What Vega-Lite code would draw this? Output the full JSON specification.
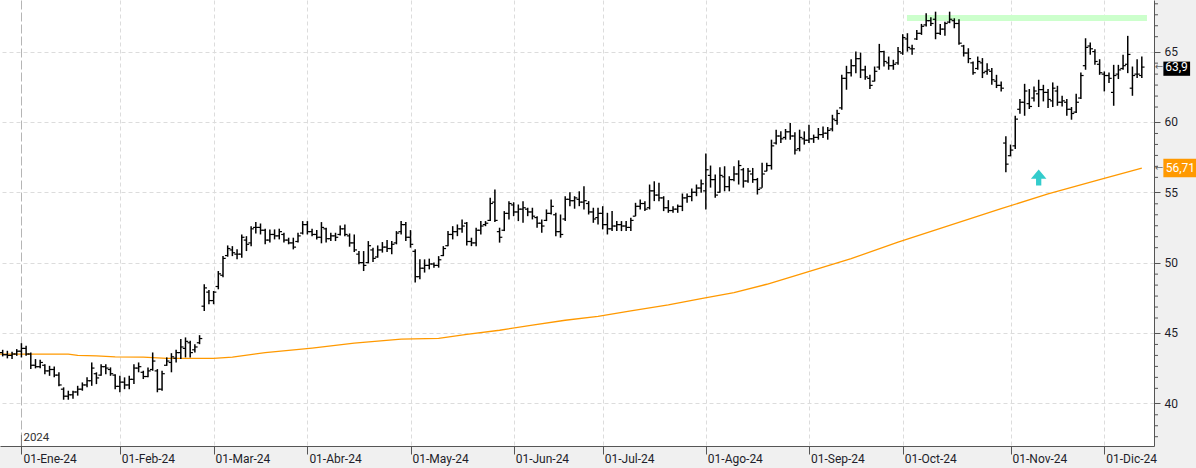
{
"$schema": "https://vega.github.io/schema/vega-lite/v6.json",
"width": 1154, "height": 446,
"autosize": {"type": "none"},
"padding": {"left": 0, "top": 0, "right": 42, "bottom": 22},
"background": "#f0f0f0",
"config": {"view": {"stroke": null, "fill": "white"}, "font": "Roboto"},
"datasets": {
"bars": [
{"k":1,"h":43.80,"l":43.33,"o":43.6,"c":43.45},{"k":2,"h":43.73,"l":43.19,"o":43.45,"c":43.4},{"k":3,"h":43.66,"l":43.14,"o":43.4,"c":43.5},{"k":4,"h":43.85,"l":43.37,"o":43.5,"c":43.7},{"k":5,"h":44.27,"l":43.26,"o":43.7,"c":43.9},{"k":6,"h":44.08,"l":43.37,"o":43.9,"c":43.5},{"k":7,"h":43.61,"l":42.43,"o":43.5,"c":42.7},{"k":8,"h":43.14,"l":42.48,"o":42.7,"c":42.6},{"k":9,"h":43.09,"l":42.48,"o":42.6,"c":42.9},{"k":10,"h":42.78,"l":42.07,"o":42.7,"c":42.3},
{"k":11,"h":42.66,"l":41.95,"o":42.3,"c":42.4},{"k":12,"h":42.62,"l":41.84,"o":42.4,"c":42.0},{"k":13,"h":42.20,"l":41.20,"o":42.0,"c":41.3},{"k":14,"h":41.13,"l":40.25,"o":41.0,"c":40.5},{"k":15,"h":40.89,"l":40.25,"o":40.5,"c":40.6},{"k":16,"h":40.89,"l":40.32,"o":40.6,"c":40.8},{"k":17,"h":41.24,"l":40.54,"o":40.8,"c":41.0},{"k":18,"h":41.48,"l":40.89,"o":41.0,"c":41.3},{"k":19,"h":41.84,"l":41.13,"o":41.3,"c":41.6},{"k":20,"h":42.90,"l":41.24,"o":41.6,"c":42.5},
{"k":21,"h":42.20,"l":41.36,"o":42.1,"c":41.8},{"k":22,"h":42.78,"l":41.95,"o":42.0,"c":42.6},{"k":23,"h":42.78,"l":42.07,"o":42.6,"c":42.5},{"k":24,"h":42.55,"l":41.95,"o":42.4,"c":42.1},{"k":25,"h":42.07,"l":41.00,"o":42.0,"c":41.2},{"k":26,"h":41.95,"l":40.78,"o":41.2,"c":41.5},{"k":27,"h":41.84,"l":41.00,"o":41.5,"c":41.3},{"k":28,"h":41.95,"l":41.00,"o":41.3,"c":41.7},{"k":29,"h":42.78,"l":41.36,"o":41.7,"c":42.5},{"k":30,"h":42.90,"l":42.20,"o":42.5,"c":42.6},
{"k":31,"h":42.31,"l":41.72,"o":42.2,"c":41.9},{"k":32,"h":42.55,"l":41.84,"o":41.9,"c":42.3},{"k":33,"h":43.61,"l":42.31,"o":42.4,"c":43.0},{"k":34,"h":42.43,"l":40.78,"o":42.3,"c":41.0},{"k":35,"h":42.31,"l":40.89,"o":41.0,"c":42.1},{"k":36,"h":43.26,"l":42.66,"o":42.7,"c":43.0},{"k":37,"h":43.56,"l":42.20,"o":42.9,"c":43.3},{"k":38,"h":43.80,"l":42.90,"o":43.2,"c":43.6},{"k":39,"h":44.56,"l":43.14,"o":43.6,"c":44.0},{"k":40,"h":44.68,"l":43.26,"o":43.9,"c":44.4},
{"k":41,"h":44.44,"l":43.26,"o":44.3,"c":43.6},{"k":42,"h":44.20,"l":43.61,"o":43.8,"c":44.0},{"k":43,"h":44.84,"l":44.20,"o":44.3,"c":44.6},{"k":44,"h":48.46,"l":46.56,"o":46.9,"c":48.2},{"k":45,"h":48.05,"l":47.04,"o":47.9,"c":47.3},{"k":46,"h":47.98,"l":47.04,"o":47.3,"c":47.9},{"k":47,"h":49.40,"l":48.10,"o":48.3,"c":49.2},{"k":48,"h":50.46,"l":48.95,"o":49.1,"c":50.3},{"k":49,"h":51.22,"l":50.42,"o":50.5,"c":51.0},{"k":50,"h":51.17,"l":50.46,"o":50.9,"c":50.7},
{"k":51,"h":50.94,"l":50.23,"o":50.6,"c":50.6},{"k":52,"h":52.00,"l":50.35,"o":50.6,"c":51.8},{"k":53,"h":51.88,"l":50.82,"o":51.6,"c":51.3},{"k":54,"h":52.59,"l":51.17,"o":51.4,"c":52.4},{"k":55,"h":52.88,"l":52.07,"o":52.5,"c":52.5},{"k":56,"h":52.78,"l":52.00,"o":52.5,"c":52.3},{"k":57,"h":52.41,"l":51.30,"o":52.3,"c":51.6},{"k":58,"h":52.36,"l":51.42,"o":51.6,"c":52.0},{"k":59,"h":52.36,"l":51.65,"o":52.0,"c":51.9},{"k":60,"h":52.41,"l":51.65,"o":51.9,"c":52.2},
{"k":61,"h":52.12,"l":51.42,"o":52.0,"c":51.6},{"k":62,"h":51.77,"l":51.30,"o":51.6,"c":51.4},{"k":63,"h":51.77,"l":50.94,"o":51.4,"c":51.1},{"k":64,"h":52.12,"l":51.42,"o":51.5,"c":51.9},{"k":65,"h":52.95,"l":52.00,"o":52.1,"c":52.7},{"k":66,"h":52.95,"l":52.00,"o":52.7,"c":52.2},{"k":67,"h":52.41,"l":51.88,"o":52.2,"c":52.0},{"k":68,"h":52.31,"l":51.65,"o":52.0,"c":51.8},{"k":69,"h":52.88,"l":51.37,"o":51.8,"c":52.5},{"k":70,"h":52.48,"l":51.42,"o":52.4,"c":51.7},
{"k":71,"h":52.12,"l":51.53,"o":51.7,"c":51.9},{"k":72,"h":52.12,"l":51.53,"o":51.9,"c":51.8},{"k":73,"h":52.64,"l":51.93,"o":52.0,"c":52.4},{"k":74,"h":52.71,"l":51.88,"o":52.4,"c":52.0},{"k":75,"h":52.07,"l":51.13,"o":51.9,"c":51.4},{"k":76,"h":52.00,"l":50.75,"o":51.4,"c":50.9},{"k":77,"h":50.82,"l":49.88,"o":50.6,"c":50.0},{"k":78,"h":50.82,"l":49.40,"o":50.0,"c":49.8},{"k":79,"h":51.53,"l":49.95,"o":50.0,"c":51.2},{"k":80,"h":51.06,"l":50.04,"o":50.9,"c":50.3},
{"k":81,"h":51.22,"l":50.35,"o":50.4,"c":50.9},{"k":82,"h":51.46,"l":50.71,"o":50.9,"c":51.1},{"k":83,"h":51.60,"l":50.75,"o":51.1,"c":51.0},{"k":84,"h":51.53,"l":50.59,"o":51.0,"c":51.3},{"k":85,"h":52.24,"l":51.30,"o":51.4,"c":52.1},{"k":86,"h":52.95,"l":52.00,"o":52.2,"c":52.7},{"k":87,"h":52.88,"l":51.53,"o":52.7,"c":51.8},{"k":88,"h":52.31,"l":51.06,"o":51.8,"c":51.3},{"k":89,"h":50.94,"l":48.58,"o":50.8,"c":49.0},{"k":90,"h":50.23,"l":48.81,"o":49.0,"c":49.6},
{"k":91,"h":50.23,"l":49.29,"o":49.6,"c":49.8},{"k":92,"h":50.28,"l":49.52,"o":49.8,"c":49.9},{"k":93,"h":50.00,"l":49.64,"o":49.9,"c":49.8},{"k":94,"h":50.46,"l":49.64,"o":49.8,"c":50.2},{"k":95,"h":51.17,"l":50.46,"o":50.5,"c":51.0},{"k":96,"h":52.24,"l":51.17,"o":51.2,"c":52.0},{"k":97,"h":52.59,"l":51.65,"o":52.0,"c":52.2},{"k":98,"h":52.71,"l":51.88,"o":52.2,"c":52.4},{"k":99,"h":53.07,"l":52.12,"o":52.4,"c":52.6},{"k":100,"h":52.88,"l":51.22,"o":52.8,"c":51.5},
{"k":101,"h":51.77,"l":51.17,"o":51.5,"c":51.4},{"k":102,"h":52.48,"l":51.17,"o":51.4,"c":52.3},{"k":103,"h":52.95,"l":52.00,"o":52.3,"c":52.6},{"k":104,"h":52.95,"l":52.59,"o":52.7,"c":52.8},{"k":105,"h":54.61,"l":52.95,"o":53.0,"c":54.2},{"k":106,"h":55.20,"l":52.88,"o":54.3,"c":53.0},{"k":107,"h":52.48,"l":51.42,"o":52.2,"c":51.8},{"k":108,"h":53.66,"l":52.24,"o":52.3,"c":53.5},{"k":109,"h":54.37,"l":53.07,"o":53.5,"c":54.2},{"k":110,"h":54.29,"l":53.30,"o":54.1,"c":53.6},
{"k":111,"h":54.13,"l":52.95,"o":53.6,"c":53.8},{"k":112,"h":54.37,"l":52.83,"o":53.8,"c":53.9},{"k":113,"h":53.90,"l":53.30,"o":53.8,"c":53.6},{"k":114,"h":53.90,"l":53.07,"o":53.6,"c":53.3},{"k":115,"h":53.30,"l":52.48,"o":53.2,"c":52.8},{"k":116,"h":53.07,"l":52.12,"o":52.8,"c":52.6},{"k":117,"h":53.78,"l":52.95,"o":53.0,"c":53.5},{"k":118,"h":54.49,"l":53.42,"o":53.5,"c":54.0},{"k":119,"h":53.54,"l":51.88,"o":53.4,"c":52.2},{"k":120,"h":53.42,"l":51.77,"o":52.2,"c":52.0},
{"k":121,"h":54.72,"l":52.95,"o":53.1,"c":54.5},{"k":122,"h":55.00,"l":54.01,"o":54.5,"c":54.4},{"k":123,"h":54.72,"l":53.83,"o":54.4,"c":54.6},{"k":124,"h":55.07,"l":54.01,"o":54.5,"c":54.3},{"k":125,"h":55.43,"l":53.78,"o":54.3,"c":54.4},{"k":126,"h":54.37,"l":53.42,"o":54.2,"c":53.6},{"k":127,"h":53.90,"l":52.83,"o":53.6,"c":53.1},{"k":128,"h":53.90,"l":52.71,"o":53.2,"c":53.5},{"k":129,"h":54.01,"l":52.36,"o":53.5,"c":52.7},{"k":130,"h":53.54,"l":52.00,"o":52.7,"c":52.4},
{"k":131,"h":53.66,"l":52.24,"o":52.4,"c":52.6},{"k":132,"h":52.95,"l":52.24,"o":52.6,"c":52.7},{"k":133,"h":52.95,"l":52.24,"o":52.7,"c":52.6},{"k":134,"h":52.95,"l":52.24,"o":52.6,"c":52.5},{"k":135,"h":53.19,"l":52.24,"o":52.5,"c":53.0},{"k":136,"h":54.25,"l":53.30,"o":53.3,"c":54.0},{"k":137,"h":54.49,"l":53.78,"o":54.0,"c":54.2},{"k":138,"h":54.37,"l":53.66,"o":54.2,"c":53.8},{"k":139,"h":55.55,"l":53.78,"o":53.9,"c":55.1},{"k":140,"h":55.78,"l":54.37,"o":55.1,"c":54.8},
{"k":141,"h":55.67,"l":54.37,"o":54.8,"c":54.6},{"k":142,"h":54.72,"l":53.66,"o":54.6,"c":53.9},{"k":143,"h":54.44,"l":53.54,"o":53.9,"c":53.7},{"k":144,"h":54.01,"l":53.54,"o":53.7,"c":53.8},{"k":145,"h":54.13,"l":53.54,"o":53.8,"c":54.0},{"k":146,"h":54.91,"l":53.66,"o":54.0,"c":54.6},{"k":147,"h":54.91,"l":54.25,"o":54.6,"c":54.7},{"k":148,"h":55.27,"l":54.37,"o":54.7,"c":55.0},{"k":149,"h":55.55,"l":54.72,"o":55.0,"c":55.3},{"k":150,"h":55.90,"l":54.96,"o":55.3,"c":55.6},
{"k":151,"h":57.75,"l":53.78,"o":55.1,"c":56.6},{"k":152,"h":56.90,"l":55.33,"o":56.2,"c":55.9},{"k":153,"h":56.26,"l":54.61,"o":55.9,"c":54.8},{"k":154,"h":56.78,"l":54.96,"o":55.0,"c":56.2},{"k":155,"h":56.85,"l":55.07,"o":56.1,"c":55.4},{"k":156,"h":56.14,"l":55.07,"o":55.4,"c":55.9},{"k":157,"h":56.85,"l":55.78,"o":55.9,"c":56.3},{"k":158,"h":57.27,"l":55.55,"o":56.3,"c":56.9},{"k":159,"h":56.73,"l":55.33,"o":56.6,"c":55.8},{"k":160,"h":56.73,"l":55.67,"o":55.8,"c":56.5},
{"k":161,"h":56.73,"l":55.67,"o":56.3,"c":55.9},{"k":162,"h":56.02,"l":54.84,"o":55.9,"c":55.2},{"k":163,"h":57.09,"l":55.33,"o":55.3,"c":56.3},{"k":164,"h":57.09,"l":56.49,"o":56.5,"c":56.9},{"k":165,"h":58.74,"l":56.61,"o":56.9,"c":58.3},{"k":166,"h":59.45,"l":58.39,"o":58.5,"c":59.0},{"k":167,"h":59.33,"l":58.51,"o":59.0,"c":58.8},{"k":168,"h":59.50,"l":58.74,"o":58.9,"c":59.3},{"k":169,"h":59.92,"l":58.74,"o":59.3,"c":59.0},{"k":170,"h":59.26,"l":57.68,"o":59.0,"c":58.0},
{"k":171,"h":59.45,"l":57.91,"o":58.1,"c":58.9},{"k":172,"h":59.33,"l":58.39,"o":58.8,"c":58.7},{"k":173,"h":59.80,"l":58.51,"o":58.7,"c":58.8},{"k":174,"h":59.10,"l":58.51,"o":58.8,"c":58.9},{"k":175,"h":59.57,"l":58.74,"o":58.9,"c":59.1},{"k":176,"h":59.68,"l":58.86,"o":59.1,"c":59.2},{"k":177,"h":59.64,"l":58.74,"o":59.2,"c":59.4},{"k":178,"h":60.51,"l":59.33,"o":59.5,"c":60.2},{"k":179,"h":60.87,"l":59.80,"o":60.1,"c":60.6},{"k":180,"h":63.35,"l":60.87,"o":61.0,"c":63.1},
{"k":181,"h":63.99,"l":62.29,"o":63.1,"c":63.5},{"k":182,"h":64.46,"l":63.23,"o":63.5,"c":64.0},{"k":183,"h":65.00,"l":63.47,"o":64.0,"c":64.5},{"k":184,"h":64.93,"l":63.12,"o":64.5,"c":63.7},{"k":185,"h":63.99,"l":63.00,"o":63.7,"c":63.2},{"k":186,"h":63.35,"l":62.34,"o":63.1,"c":62.6},{"k":187,"h":63.94,"l":62.88,"o":62.9,"c":63.6},{"k":188,"h":65.55,"l":63.71,"o":63.9,"c":65.0},{"k":189,"h":65.07,"l":63.94,"o":65.0,"c":64.3},{"k":190,"h":64.65,"l":63.71,"o":64.2,"c":64.0},
{"k":191,"h":64.42,"l":63.71,"o":64.0,"c":64.1},{"k":192,"h":65.32,"l":64.06,"o":64.2,"c":65.0},{"k":193,"h":66.24,"l":64.77,"o":64.9,"c":66.0},{"k":194,"h":66.31,"l":65.00,"o":65.9,"c":65.3},{"k":195,"h":65.48,"l":64.77,"o":65.2,"c":65.2},{"k":196,"h":66.54,"l":65.83,"o":65.9,"c":66.3},{"k":197,"h":66.97,"l":66.19,"o":66.3,"c":66.8},{"k":198,"h":67.73,"l":66.78,"o":66.9,"c":67.2},{"k":199,"h":67.44,"l":66.83,"o":67.2,"c":67.0},{"k":200,"h":67.84,"l":65.88,"o":67.3,"c":66.3},
{"k":201,"h":66.97,"l":66.19,"o":66.3,"c":66.6},{"k":202,"h":67.13,"l":66.12,"o":66.6,"c":67.0},{"k":203,"h":67.84,"l":67.02,"o":67.1,"c":67.3},{"k":204,"h":67.37,"l":66.66,"o":67.2,"c":67.0},{"k":205,"h":67.30,"l":65.48,"o":67.0,"c":65.6},{"k":206,"h":65.48,"l":64.65,"o":65.4,"c":64.9},{"k":207,"h":65.24,"l":64.18,"o":64.9,"c":64.5},{"k":208,"h":64.29,"l":63.35,"o":64.2,"c":63.5},{"k":209,"h":64.65,"l":63.71,"o":63.8,"c":64.3},{"k":210,"h":64.54,"l":63.12,"o":64.2,"c":63.5},
{"k":211,"h":64.18,"l":63.35,"o":63.6,"c":63.7},{"k":212,"h":63.83,"l":62.64,"o":63.6,"c":63.0},{"k":213,"h":63.35,"l":62.41,"o":62.9,"c":62.6},{"k":214,"h":62.88,"l":62.17,"o":62.6,"c":62.4},{"k":215,"h":58.98,"l":56.42,"o":58.5,"c":57.0},{"k":216,"h":58.39,"l":57.56,"o":57.6,"c":58.0},{"k":217,"h":60.44,"l":58.08,"o":58.3,"c":60.2},{"k":218,"h":61.63,"l":60.59,"o":60.9,"c":61.4},{"k":219,"h":62.71,"l":60.44,"o":61.4,"c":62.2},{"k":220,"h":62.34,"l":60.92,"o":61.3,"c":61.1},
{"k":221,"h":62.52,"l":61.46,"o":61.7,"c":62.2},{"k":222,"h":63.00,"l":61.06,"o":62.0,"c":62.3},{"k":223,"h":62.64,"l":61.46,"o":62.3,"c":62.1},{"k":224,"h":62.34,"l":60.99,"o":62.1,"c":61.6},{"k":225,"h":62.81,"l":61.06,"o":61.5,"c":62.4},{"k":226,"h":62.57,"l":61.15,"o":62.2,"c":61.4},{"k":227,"h":61.86,"l":61.10,"o":61.4,"c":61.5},{"k":228,"h":61.63,"l":60.44,"o":61.4,"c":60.9},{"k":229,"h":61.06,"l":60.16,"o":60.9,"c":60.6},{"k":230,"h":62.00,"l":60.63,"o":60.7,"c":61.4},
{"k":231,"h":63.51,"l":61.63,"o":61.7,"c":63.3},{"k":232,"h":65.95,"l":63.71,"o":64.0,"c":65.3},{"k":233,"h":65.64,"l":64.77,"o":65.4,"c":65.2},{"k":234,"h":65.17,"l":64.06,"o":65.0,"c":64.3},{"k":235,"h":64.46,"l":63.35,"o":64.1,"c":63.5},{"k":236,"h":63.59,"l":62.17,"o":63.4,"c":63.3},{"k":237,"h":63.51,"l":62.76,"o":63.3,"c":63.1},{"k":238,"h":64.06,"l":61.15,"o":62.1,"c":63.3},{"k":239,"h":64.06,"l":63.05,"o":63.4,"c":63.7},{"k":240,"h":64.77,"l":63.71,"o":63.8,"c":64.0},
{"k":241,"h":66.12,"l":63.47,"o":64.1,"c":64.8},{"k":242,"h":63.94,"l":61.86,"o":62.4,"c":63.3},{"k":243,"h":64.46,"l":63.12,"o":63.4,"c":63.4},{"k":244,"h":64.65,"l":63.12,"o":63.3,"c":63.9}
],
"ma": [
{"k":0,"v":43.49},{"k":15,"v":43.49},{"k":17,"v":43.4},{"k":21,"v":43.37},{"k":25,"v":43.3},{"k":31,"v":43.28},{"k":36,"v":43.19},{"k":46,"v":43.19},{"k":50,"v":43.28},{"k":57,"v":43.6},{"k":67,"v":43.92},{"k":76,"v":44.27},{"k":86,"v":44.56},{"k":94,"v":44.61},{"k":100,"v":44.89},{"k":107,"v":45.19},{"k":114,"v":45.55},{"k":121,"v":45.9},{"k":128,"v":46.17},{"k":135,"v":46.56},{"k":143,"v":46.99},{"k":150,"v":47.44},{"k":157,"v":47.87},{"k":164,"v":48.46},{"k":171,"v":49.17},{"k":182,"v":50.28},{"k":192,"v":51.46},{"k":203,"v":52.64},{"k":214,"v":53.83},{"k":224,"v":54.89},{"k":235,"v":55.9},{"k":244,"v":56.71}
],
"minor": [
{"t":37.62},{"t":38.4},{"t":39.18},{"t":41.06},{"t":41.84},{"t":42.62},{"t":43.4},{"t":44.18},{"t":46.06},{"t":46.84},{"t":47.62},{"t":48.4},{"t":49.18},{"t":51.06},{"t":51.84},{"t":52.62},{"t":53.4},{"t":54.18},{"t":56.06},{"t":56.84},{"t":57.62},{"t":58.4},{"t":59.18},{"t":61.06},{"t":61.84},{"t":62.62},{"t":63.4},{"t":64.18},{"t":66.06},{"t":66.84},{"t":67.62},{"t":68.4}
]
},
"layer": [
{
"data": {"values": [{"k1": 193.9, "k2": 245.1, "lo": 67.18, "hi": 67.61}]},
"mark": {"type": "rect", "color": "#ccffcc"},
"encoding": {
"x": {"field": "k1", "type": "quantitative",
"scale": {"type": "linear", "domain": [0.43, 246.6], "nice": false, "zero": false},
"axis": {"orient": "bottom", "title": null,
"values": [5, 26, 46, 66, 88, 110, 129, 151, 173, 193, 216, 236],
"labelExpr": "datum.value==5?'01-Ene-24':datum.value==26?'01-Feb-24':datum.value==46?'01-Mar-24':datum.value==66?'01-Abr-24':datum.value==88?'01-May-24':datum.value==110?'01-Jun-24':datum.value==129?'01-Jul-24':datum.value==151?'01-Ago-24':datum.value==173?'01-Sep-24':datum.value==193?'01-Oct-24':datum.value==216?'01-Nov-24':'01-Dic-24'",
"grid": true,
"gridColor": {"condition": {"test": "datum.value==5", "value": "#b5b5b5"}, "value": "#dcdcdc"},
"gridDash": {"condition": {"test": "datum.value==5", "value": [9, 3]}, "value": [4, 3]},
"gridWidth": 1,
"domainColor": "#555", "domainWidth": 1,
"tickColor": "#555", "tickSize": 8, "tickWidth": 1,
"labelAlign": "left", "labelBaseline": "top", "labelPadding": -1, "labelOffset": 1.5,
"labelFont": "Roboto", "labelFontSize": 12, "labelColor": "#1e1e2a",
"labelOverlap": false, "labelBound": false, "labelFlush": false}},
"x2": {"field": "k2"},
"y": {"field": "lo", "type": "quantitative",
"scale": {"domain": [36.96, 68.67], "nice": false, "zero": false},
"axis": {"orient": "right", "title": null,
"values": [40, 45, 50, 55, 60, 65],
"format": "d",
"grid": true, "gridColor": "#dcdcdc", "gridDash": [4, 3], "gridWidth": 1,
"domainColor": "#555", "domainWidth": 1,
"tickColor": "#555", "tickWidth": 1, "tickSize": 6,
"labelPadding": 4, "labelBaseline": "middle", "labelAlign": "left",
"labelFont": "Roboto", "labelFontSize": 12, "labelColor": "#1e1e2a",
"labelOverlap": false, "labelBound": false, "labelFlush": false}},
"y2": {"field": "hi"}
}
},
{
"data": {"name": "minor"},
"mark": {"type": "rule", "color": "#555", "strokeWidth": 1},
"encoding": {"x": {"datum": 246.6}, "x2": {"datum": 247.45}, "y": {"field": "t", "type": "quantitative"}}
},
{
"data": {"name": "ma"},
"mark": {"type": "line", "color": "#ff9900", "strokeWidth": 1.3, "clip": true},
"encoding": {
"x": {"field": "k", "type": "quantitative"},
"y": {"field": "v", "type": "quantitative"}
}
},
{
"data": {"values": [{"t": "2024"}]},
"layer": [
{"mark": {"type": "rule", "color": "#777", "strokeWidth": 1},
"encoding": {"x": {"datum": 5}, "y": {"datum": 36.96}, "y2": {"datum": 37.75}}},
{"mark": {"type": "text", "align": "left", "baseline": "alphabetic", "dx": 2, "font": "Roboto", "fontSize": 11.5, "color": "#333"},
"encoding": {"x": {"datum": 5}, "y": {"datum": 37.34}, "text": {"field": "t"}}}
]
},
{
"data": {"name": "bars"},
"layer": [
{"mark": {"type": "rule", "color": "#000", "strokeWidth": 1.5},
"encoding": {"x": {"field": "k", "type": "quantitative"}, "y": {"field": "l", "type": "quantitative"}, "y2": {"field": "h"}}},
{"mark": {"type": "point", "shape": "M-1,0H0", "size": 30, "filled": false, "stroke": "#000", "strokeWidth": 1.2, "opacity": 1},
"encoding": {"x": {"field": "k", "type": "quantitative"}, "y": {"field": "o", "type": "quantitative"}}},
{"mark": {"type": "point", "shape": "M0,0H1", "size": 30, "filled": false, "stroke": "#000", "strokeWidth": 1.2, "opacity": 1},
"encoding": {"x": {"field": "k", "type": "quantitative"}, "y": {"field": "c", "type": "quantitative"}}}
]
},
{
"data": {"values": [{"k": 222, "v": 56.05}]},
"mark": {"type": "point", "shape": "M0,-1L0.97,0.16L0.33,0.16L0.33,1L-0.33,1L-0.33,0.16L-0.97,0.16Z", "size": 256, "filled": true, "color": "#33cccc", "opacity": 1, "strokeWidth": 0},
"encoding": {"x": {"field": "k", "type": "quantitative"}, "y": {"field": "v", "type": "quantitative"}}
},
{
"data": {"values": [{"v": 63.9, "lbl": "63,9"}]},
"layer": [
{"mark": {"type": "rect", "color": "#000"},
"encoding": {"x": {"datum": 248.6}, "x2": {"datum": 254.3}, "y": {"datum": 63.28}, "y2": {"datum": 64.29}}},
{"mark": {"type": "text", "align": "left", "baseline": "middle", "font": "Roboto", "fontSize": 12, "color": "#fff"},
"encoding": {"x": {"datum": 249.0}, "y": {"field": "v", "type": "quantitative"}, "text": {"field": "lbl"}}},
{"mark": {"type": "text", "align": "left", "baseline": "middle", "font": "DejaVu Sans", "fontSize": 10, "color": "#666"},
"encoding": {"x": {"datum": 246.75}, "y": {"field": "v", "type": "quantitative"}, "text": {"value": "←"}}}
]
},
{
"data": {"values": [{"v": 56.71, "lbl": "56,71"}]},
"layer": [
{"mark": {"type": "rect", "color": "#ff9900"},
"encoding": {"x": {"datum": 248.6}, "x2": {"datum": 255.6}, "y": {"datum": 56.07}, "y2": {"datum": 57.39}}},
{"mark": {"type": "text", "align": "left", "baseline": "middle", "font": "Roboto", "fontSize": 12, "color": "#fff"},
"encoding": {"x": {"datum": 249.1}, "y": {"field": "v", "type": "quantitative"}, "text": {"field": "lbl"}}},
{"mark": {"type": "text", "align": "left", "baseline": "middle", "font": "DejaVu Sans", "fontSize": 10, "color": "#666"},
"encoding": {"x": {"datum": 246.75}, "y": {"field": "v", "type": "quantitative"}, "text": {"value": "←"}}}
]
}
]
}
